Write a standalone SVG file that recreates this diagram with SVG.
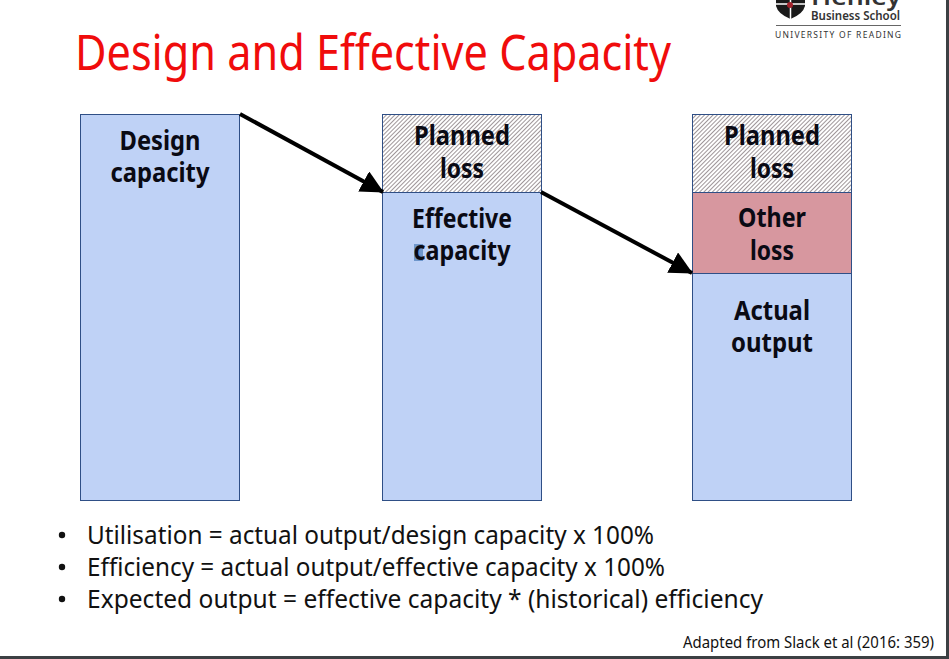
<svg xmlns="http://www.w3.org/2000/svg" width="949" height="659" viewBox="0 0 949 659">
<style>
text{font-family:"Noto Sans","Open Sans","Liberation Sans",sans-serif}
.bar{stroke:#2f4f86;stroke-width:1}
.blue{fill:#bfd2f6}
.hatch{fill:url(#h)}
.lab{font-size:27px;font-weight:700;fill:#0a0a14;text-anchor:middle}
.bul{font-size:26px;fill:#111}
.conn{stroke:#000;stroke-width:4;fill:none;marker-end:url(#a)}
</style>
<defs>
<pattern id="h" width="3" height="3" patternUnits="userSpaceOnUse" patternTransform="rotate(-45)">
<rect width="3" height="3" fill="#ffffff"/><rect width="3" height="0.900" fill="#948a8e"/>
</pattern>
<marker id="a" markerUnits="userSpaceOnUse" markerWidth="24" markerHeight="24" refX="22" refY="11.500" orient="auto">
<path d="M0 0L23 11.500L0 23Z" fill="#000"/>
</marker>
</defs>
<rect width="949" height="659" fill="#fff"/>
<rect x="946" y="0" width="3" height="659" fill="#3c4043"/>
<rect x="0" y="656" width="949" height="3" fill="#3c4043"/>
<g id="logo">
<path d="M776 0H805V6Q803 14 790.500 19Q778 14 776 6Z" fill="#1a1a1a"/>
<path d="M790.500 0V19M776 4H805" stroke="#fff" stroke-width="1.500"/>
<circle cx="790" cy="5" r="3" fill="#a3232c"/>
<text x="811" y="5" font-size="24" font-weight="600" fill="#333" textLength="90" lengthAdjust="spacingAndGlyphs">Henley</text>
<text x="811" y="20" font-size="12.500" font-weight="600" fill="#333" textLength="89" lengthAdjust="spacingAndGlyphs">Business School</text>
<rect x="776" y="25" width="125" height="1" fill="#666"/>
<text x="775" y="38" font-size="8.500" fill="#333" textLength="126">UNIVERSITY OF READING</text>
</g>
<text id="title" x="75" y="70" font-size="50" fill="#f00c0c" textLength="596" lengthAdjust="spacingAndGlyphs">Design and Effective Capacity</text>
<g id="design-capacity">
<rect class="bar blue" x="80.500" y="114.500" width="159" height="386"/>
<text class="lab" x="160" y="150" textLength="81" lengthAdjust="spacingAndGlyphs">Design</text>
<text class="lab" x="160" y="182" textLength="99" lengthAdjust="spacingAndGlyphs">capacity</text>
</g>
<g id="planned-loss-1">
<rect class="bar hatch" x="382.500" y="114.500" width="159" height="78"/>
<text class="lab" x="462" y="145" textLength="96" lengthAdjust="spacingAndGlyphs">Planned</text>
<text class="lab" x="462" y="178" textLength="44" lengthAdjust="spacingAndGlyphs">loss</text>
</g>
<g id="effective-capacity">
<rect class="bar blue" x="382.500" y="192.500" width="159" height="308"/>
<rect x="414" y="244" width="9" height="17" fill="#6f97cc"/>
<text class="lab" x="462" y="228" textLength="100" lengthAdjust="spacingAndGlyphs">Effective</text>
<text class="lab" x="462" y="260" textLength="97" lengthAdjust="spacingAndGlyphs">capacity</text>
</g>
<g id="planned-loss-2">
<rect class="bar hatch" x="692.500" y="114.500" width="159" height="78"/>
<text class="lab" x="772" y="145" textLength="96" lengthAdjust="spacingAndGlyphs">Planned</text>
<text class="lab" x="772" y="178" textLength="44" lengthAdjust="spacingAndGlyphs">loss</text>
</g>
<g id="other-loss">
<rect class="bar" x="692.500" y="192.500" width="159" height="81" fill="#d7979f"/>
<text class="lab" x="772" y="227" textLength="68" lengthAdjust="spacingAndGlyphs">Other</text>
<text class="lab" x="772" y="260" textLength="44" lengthAdjust="spacingAndGlyphs">loss</text>
</g>
<g id="actual-output">
<rect class="bar blue" x="692.500" y="273.500" width="159" height="227"/>
<text class="lab" x="772" y="320" textLength="76" lengthAdjust="spacingAndGlyphs">Actual</text>
<text class="lab" x="772" y="352" textLength="82" lengthAdjust="spacingAndGlyphs">output</text>
</g>
<g id="connectors">
<line class="conn" x1="240" y1="114" x2="383" y2="192"/>
<line class="conn" x1="541" y1="192" x2="692" y2="273"/>
</g>
<g id="notes">
<circle cx="62" cy="535" r="3.200" fill="#111"/>
<circle cx="62" cy="567" r="3.200" fill="#111"/>
<circle cx="62" cy="599" r="3.200" fill="#111"/>
<text class="bul" x="87" y="544" textLength="567" lengthAdjust="spacingAndGlyphs">Utilisation = actual output/design capacity x 100%</text>
<text class="bul" x="87" y="576" textLength="578" lengthAdjust="spacingAndGlyphs">Efficiency = actual output/effective capacity x 100%</text>
<text class="bul" x="87" y="608" textLength="676" lengthAdjust="spacingAndGlyphs">Expected output = effective capacity * (historical) efficiency</text>
<text x="683" y="648" font-size="16" fill="#111" textLength="251" lengthAdjust="spacingAndGlyphs">Adapted from Slack et al (2016: 359)</text>
</g>
</svg>
